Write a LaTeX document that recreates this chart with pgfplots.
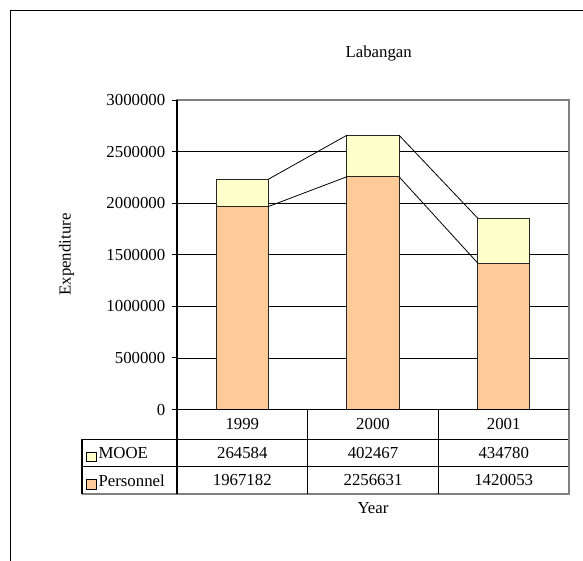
\documentclass[border=0pt]{standalone}
\usepackage{pgfplots}
\pgfplotsset{compat=1.18}
\usepackage{pgfplotstable}
\usepackage{fontspec}
\setmainfont{Liberation Serif}

\definecolor{personnel}{HTML}{FFCC99}
\definecolor{mooe}{HTML}{FFFFCC}
\definecolor{framegray}{HTML}{808080}

% Expenditure by year (index 0,1,2 = 1999, 2000, 2001)
\pgfplotstableread{
idx mooe personnel
0 264584 1967182
1 402467 2256631
2 434780 1420053
}\budget

\newcommand{\chartfont}{\fontsize{12.6}{15}\selectfont}

\begin{document}
\begin{tikzpicture}[font=\chartfont]
% page area and chart frame (1 unit = 1 px)
\begin{scope}[x=0.75pt,y=-0.75pt]
  \useasboundingbox (0,0) rectangle (583,561);
  \draw[line width=0.9pt] (10.7,561) -- (10.7,10.7) -- (583,10.7);
  \node[anchor=base] at (378.7,57.7) {Labangan};
  \node[rotate=90] at (66.7,254.5) {Expenditure};
  \node at (373,508) {Year};
\end{scope}

% stacked columns
\begin{axis}[
  at={(132.75pt,-307.125pt)}, anchor=south west,
  scale only axis, width=294pt, height=232.125pt,
  ybar stacked, bar width=0.398,
  xmin=-0.5, xmax=2.5, ymin=0, ymax=3000000,
  xtick=\empty,
  ytick={0,500000,1000000,1500000,2000000,2500000,3000000},
  scaled y ticks=false,
  yticklabel style={/pgf/number format/fixed,
    /pgf/number format/1000 sep={},
    /pgf/number format/assume math mode=true,
    font=\chartfont, xshift=-1.5pt},
  ymajorgrids, grid style={black, line width=0.6pt},
  axis line style={draw=framegray, line width=1pt},
  tick align=outside, ytick pos=left, major tick length=3.75pt,
  tick style={black, line width=0.75pt},
  clip=false,
]
\addplot[fill=personnel, draw=black!85, line width=0.75pt]
  table[x=idx, y=personnel]{\budget};
\addplot[fill=mooe, draw=black!85, line width=0.75pt]
  table[x=idx, y=mooe]{\budget};
\draw[black, line width=0.8pt] (rel axis cs:0,0) -- (rel axis cs:0,1);
\end{axis}

% series lines joining the segment tops of neighbouring columns
\begin{axis}[
  at={(132.75pt,-307.125pt)}, anchor=south west,
  scale only axis, width=294pt, height=232.125pt,
  xmin=-0.5, xmax=2.5, ymin=0, ymax=3000000,
  hide axis, clip=false,
]
\addplot[black, line width=0.6pt] coordinates {(0.199,1967182) (0.801,2256631)};
\addplot[black, line width=0.6pt] coordinates {(1.199,2256631) (1.801,1420053)};
\addplot[black, line width=0.6pt] coordinates {(0.199,2231766) (0.801,2659098)};
\addplot[black, line width=0.6pt] coordinates {(1.199,2659098) (1.801,1854833)};
\end{axis}

% data table under the plot
\begin{scope}[x=0.75pt,y=-0.75pt, line width=0.8pt]
  \draw (177,409.5) -- (569,409.5);
  \draw (82,439.3) -- (569,439.3);
  \draw (82,466.7) -- (569,466.7);
  \draw[framegray, line width=1.2pt] (82,494) -- (569.5,494);
  \draw (82,439.3) -- (82,494);
  \draw (177,409.5) -- (177,494);
  \draw (307.7,409.5) -- (307.7,494);
  \draw (438.3,409.5) -- (438.3,494);
  \draw[framegray, line width=1pt] (569,409.5) -- (569,494);
  % column headings
  \node at (242.3,424.4) {1999};
  \node at (373,424.4) {2000};
  \node at (503.7,424.4) {2001};
  % legend keys
  \draw[fill=mooe, line width=0.6pt] (86.5,452) rectangle (96,461.5);
  \node[anchor=west, inner sep=0pt] at (98,453) {MOOE};
  \draw[fill=personnel, line width=0.6pt] (86.5,479.5) rectangle (96,489);
  \node[anchor=west, inner sep=0pt] at (98,480.4) {Personnel};
  % values
  \node at (242.3,453) {264584};
  \node at (373,453) {402467};
  \node at (503.7,453) {434780};
  \node at (242.3,480.4) {1967182};
  \node at (373,480.4) {2256631};
  \node at (503.7,480.4) {1420053};
\end{scope}
\end{tikzpicture}
\end{document}
